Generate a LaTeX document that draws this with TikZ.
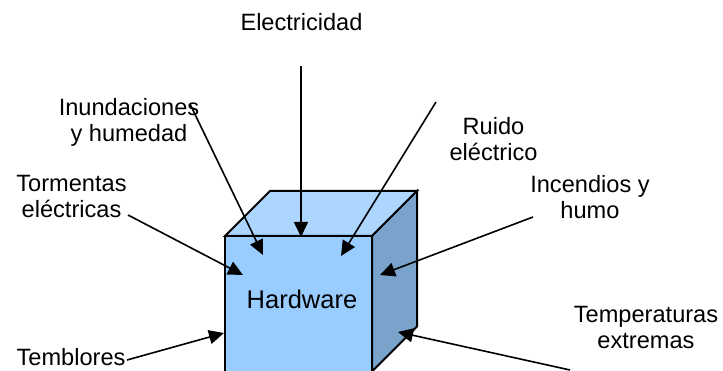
\documentclass[tikz,border=0pt]{standalone}
\usepackage{fontspec}
\setmainfont{Liberation Sans}
\usetikzlibrary{arrows.meta}
\definecolor{frontc}{HTML}{99CCFF}
\definecolor{topc}{HTML}{ADD6FF}
\definecolor{sidec}{HTML}{7AA3CC}
\newcommand\mylbl[1]{\begin{tabular}[t]{@{}c@{}}#1\end{tabular}}
\begin{document}
\begin{tikzpicture}[x=1pt,y=-1pt,
  lbl/.style={font=\fontsize{23.6}{26}\selectfont, inner sep=0pt, anchor=base},
  arr/.style={line width=1.6pt, -{Triangle[length=15pt,width=14pt]}},
  face/.style={draw=black, line width=2pt, line join=miter}]
\useasboundingbox (0,0) rectangle (723,371);
% cube corners
\coordinate (ftl) at (225,236);
\coordinate (ftr) at (372,236);
\coordinate (fbr) at (372,371.5);
\coordinate (fbl) at (225,371.5);
\coordinate (btl) at (270,191);
\coordinate (btr) at (417,191);
\coordinate (bbr) at (417,326.5);
% faces
\filldraw[face, fill=topc] (ftl) -- (btl) -- (btr) -- (ftr) -- cycle;
\filldraw[face, fill=sidec] (ftr) -- (btr) -- (bbr) -- (fbr) -- cycle;
\filldraw[face, fill=frontc] (ftl) -- (ftr) -- (fbr) -- (fbl) -- cycle;
\node[anchor=base, inner sep=0pt, font=\fontsize{25.5}{28}\selectfont] (hw) at (302,309) {Hardware};
% labels
\node[lbl] (elec) at (301.5,30.7) {Electricidad};
\node[lbl] (inun) at (129,116) {\mylbl{Inundaciones\\y humedad}};
\node[lbl] (ruido) at (493.5,135) {\mylbl{Ruido\\eléctrico}};
\node[lbl] (torm) at (71.5,191.7) {\mylbl{Tormentas\\eléctricas}};
\node[lbl] (inc) at (590,193) {\mylbl{Incendios y\\humo}};
\node[lbl] (temb) at (71,365) {Temblores};
\node[lbl] (temp) at (646,323) {\mylbl{Temperaturas\\extremas}};
% arrow ends
\coordinate (elecS) at (301,66);   \coordinate (elecT) at (301,237);
\coordinate (inunS) at (190,104);  \coordinate (inunT) at (263,255);
\coordinate (ruidoS) at (436,102); \coordinate (ruidoT) at (341,256);
\coordinate (tormS) at (128,215);  \coordinate (tormT) at (243,275);
\coordinate (incS) at (533,217);   \coordinate (incT) at (380,275);
\coordinate (tembS) at (127,360);  \coordinate (tembT) at (224,333);
\coordinate (tempS) at (570,370);  \coordinate (tempT) at (398,332);
\draw[arr] (elecS) -- (elecT);
\draw[arr] (inunS) -- (inunT);
\draw[arr] (ruidoS) -- (ruidoT);
\draw[arr] (tormS) -- (tormT);
\draw[arr] (incS) -- (incT);
\draw[arr] (tembS) -- (tembT);
\draw[arr] (tempS) -- (tempT);
\end{tikzpicture}
\end{document}
